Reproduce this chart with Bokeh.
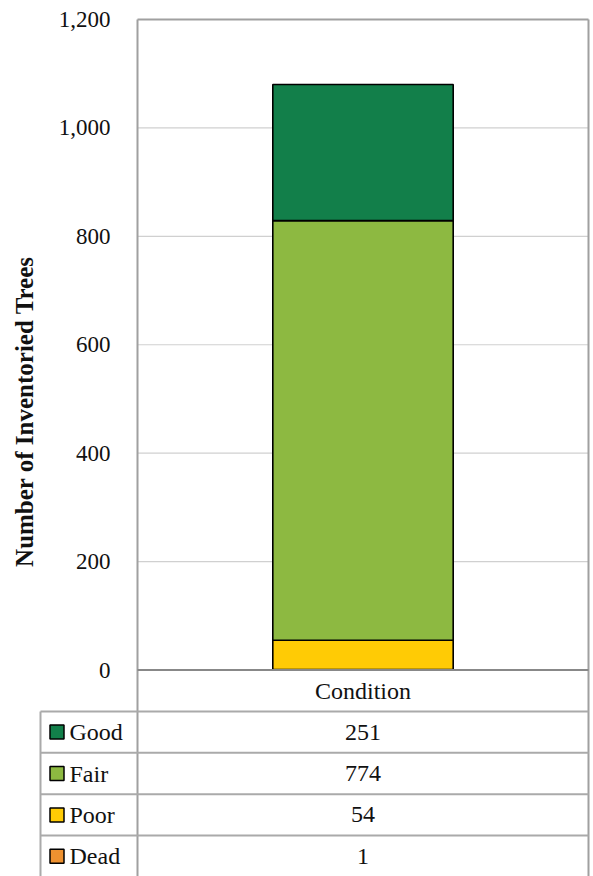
from bokeh.plotting import figure
from bokeh.models import Range1d, ColumnDataSource
from bokeh.core.properties import value
from bokeh.embed import file_html
from bokeh.resources import INLINE
import math

# ---- data ----
conditions = ["Good", "Fair", "Poor", "Dead"]
counts = [251, 774, 54, 1]
colors = ["#127F4A", "#8DB941", "#FFCB05", "#EE9130"]
category = "Condition"
y_ticks = [0, 200, 400, 600, 800, 1000, 1200]
tick_labels = ["0", "200", "400", "600", "800", "1,000", "1,200"]
y_title = "Number of Inventoried Trees"

# ---- layout (figure pixels) ----
W, H = 592, 876
PL, PR, PT, PB = 137.0, 588.0, 19.0, 669.5   # plot area
YMAX = 1200.0
ROW = 41.4            # table row height
TL = 40.0             # table left edge

def fx(px):
    return (px - PL) / (PR - PL)

def fy(px):
    return (PB - px) / (PB - PT) * YMAX

FONT = value("Liberation Serif")
FS = "23px"
FS_TAB = "24px"
FS_TITLE = "25px"

p = figure(width=W, height=H,
           x_range=Range1d(fx(0), fx(W)), y_range=Range1d(fy(H), fy(0)),
           x_axis_type=None, y_axis_type=None,
           toolbar_location=None, output_backend="svg",
           min_border=0, outline_line_color=None)
p.background_fill_color = "white"
p.border_fill_color = "white"

# gridlines
grid_t = [t for t in y_ticks if 0 < t < YMAX]
p.segment(x0=[0] * len(grid_t), x1=[1] * len(grid_t), y0=grid_t, y1=grid_t,
          line_color="#D0D0D0", line_width=1.2)

# stacked bar
stack_order = conditions[::-1]
src = ColumnDataSource({"x": [0.5], **{c: [v] for c, v in zip(conditions, counts)}})
p.vbar_stack(stack_order, x="x", width=0.4, source=src,
             fill_color=[colors[conditions.index(c)] for c in stack_order],
             line_color="black", line_width=1.6)

# plot frame borders (top, left, right)
ybot = fy(H)
p.segment(x0=[0], x1=[1], y0=[YMAX], y1=[YMAX], line_color="#A0A0A0", line_width=2)
p.segment(x0=[0, 1], x1=[0, 1], y0=[YMAX, YMAX], y1=[ybot, ybot],
          line_color="#A0A0A0", line_width=2)
# zero axis
p.segment(x0=[0], x1=[1], y0=[0], y1=[0], line_color="#888888", line_width=2.2)

# table horizontal lines
row_tops = [PB + ROW * (i + 1) for i in range(len(conditions))]
p.segment(x0=[fx(TL)] * len(row_tops), x1=[1] * len(row_tops),
          y0=[fy(r) for r in row_tops], y1=[fy(r) for r in row_tops],
          line_color="#AAAAAA", line_width=2)
# table left edge
p.segment(x0=[fx(TL)], x1=[fx(TL)], y0=[fy(row_tops[0])], y1=[ybot],
          line_color="#AAAAAA", line_width=2)

# tick labels
p.text(x=[fx(110)] * len(y_ticks), y=y_ticks, text=tick_labels,
       text_align="right", text_baseline="middle",
       text_font=FONT, text_font_size=FS, text_color="#111111")

# y title
p.text(x=[fx(24)], y=[fy(411)], text=[y_title], angle=math.pi / 2,
       text_align="center", text_baseline="middle",
       text_font=FONT, text_font_size=FS_TITLE, text_font_style="bold",
       text_color="#111111")

# category header
p.text(x=[0.5], y=[fy(PB + ROW / 2)], text=[category],
       text_align="center", text_baseline="middle",
       text_font=FONT, text_font_size=FS_TAB, text_color="#111111")

# table rows
row_centers = [fy(r + ROW / 2) for r in row_tops]
p.text(x=[0.5] * len(counts), y=row_centers, text=[str(c) for c in counts],
       text_align="center", text_baseline="middle",
       text_font=FONT, text_font_size=FS_TAB, text_color="#111111")
p.scatter(x=[fx(56.5)] * len(conditions), y=row_centers, marker="square",
          size=14, fill_color=colors, line_color="black", line_width=1.5)
p.text(x=[fx(69)] * len(conditions), y=row_centers, text=conditions,
       text_align="left", text_baseline="middle",
       text_font=FONT, text_font_size=FS_TAB, text_color="#111111")

open("out.html", "w").write(file_html(p, INLINE))
